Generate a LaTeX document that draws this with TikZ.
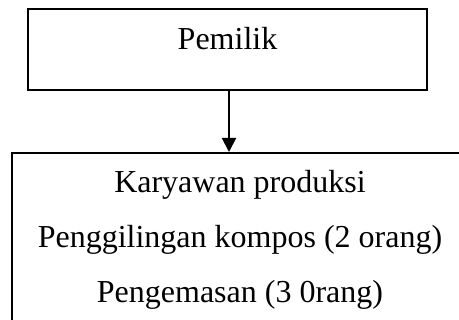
\documentclass[tikz,border=0pt]{standalone}
\usepackage{fontspec}
\setmainfont{Liberation Serif}
\usetikzlibrary{arrows.meta}
\begin{document}
\begin{tikzpicture}[x=1pt,y=-1pt,
        kotak/.style={draw, line width=2.2pt, inner sep=0pt},
        teks/.style={anchor=base, inner sep=0pt, font=\fontsize{32}{38}\selectfont}]
        \clip (0,0) rectangle (459,320);
        \node[kotak, teks, minimum width=399pt, text height=41pt, text depth=40pt] (pemilik) at (227.5,50) {Pemilik};
        \node[kotak, anchor=north west, minimum width=458pt, minimum height=200pt] (karyawan) at (11,152) {};
        \node[teks] (baris1) at (240,193) {Karyawan produksi};
        \node[teks] (baris2) at (240,248) {Penggilingan kompos (2 orang)};
        \node[teks] (baris3) at (240,303) {Pengemasan (3 0rang)};
        \draw[line width=2pt, -{Triangle[length=14pt,width=14pt]}] ([xshift=1.5pt]pemilik.south) -- ([xshift=1.5pt]pemilik.south |- karyawan.north);
    \end{tikzpicture}
\end{document}
